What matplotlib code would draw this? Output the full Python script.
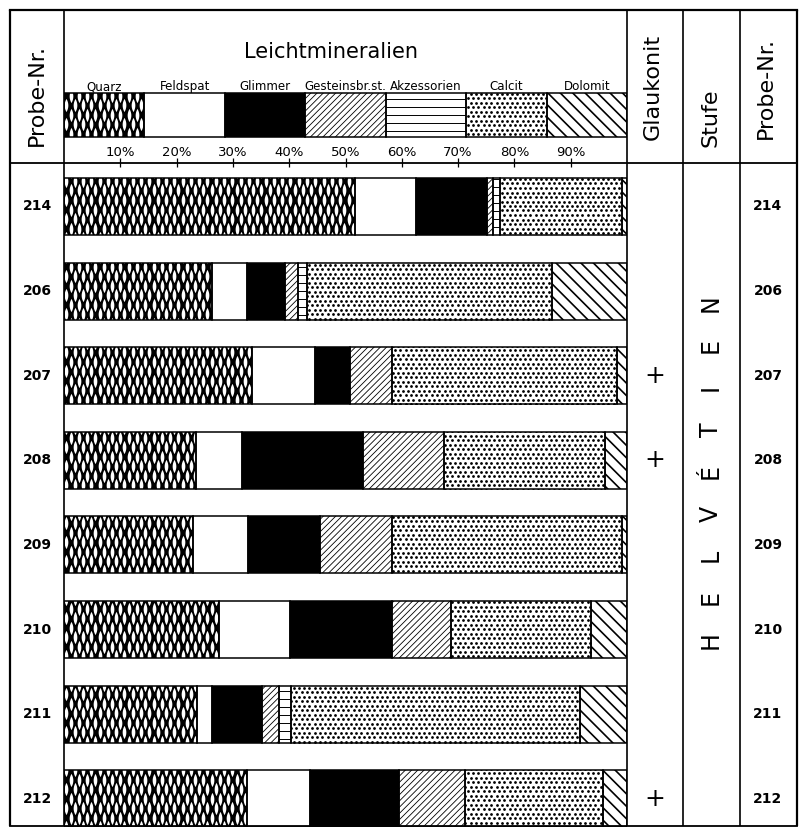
import numpy as np
import matplotlib
matplotlib.use("Agg")
import matplotlib.pyplot as plt
from matplotlib.collections import LineCollection
from matplotlib.patches import Rectangle
from matplotlib.path import Path
from matplotlib.transforms import blended_transform_factory

plt.rcParams["font.family"] = ["DejaVu Sans"]

# --- data (percent of light mineral fraction) ---
samples = ["214", "206", "207", "208", "209", "210", "211", "212"]
quarz = [51.7, 26.3, 33.4, 23.4, 22.9, 27.5, 23.6, 32.5]
feldspat = [10.8, 6.2, 11.2, 8.2, 9.8, 12.6, 2.7, 11.2]
glimmer = [12.6, 6.7, 6.2, 21.5, 12.8, 18.1, 8.9, 15.8]
gestein = [1.1, 2.3, 7.5, 14.4, 12.8, 10.5, 3.0, 11.7]
akzessorien = [1.2, 1.6, 0.0, 0.0, 0.0, 0.0, 2.1, 0.0]
calcit = [21.7, 43.5, 39.9, 28.6, 40.8, 24.9, 51.3, 24.5]
dolomit = [0.9, 13.4, 1.8, 3.9, 0.9, 6.4, 8.4, 4.3]
glaukonit = ["", "", "+", "+", "", "", "", "+"]
stufe = "HELVÉTIEN"
mineral_names = ["Quarz", "Feldspat", "Glimmer", "Gesteinsbr.st.",
                 "Akzessorien", "Calcit", "Dolomit"]
mineral_styles = ["quarz", "plain", "black", "ne", "hlines", "dots", "se"]
pct_ticks = [10, 20, 30, 40, 50, 60, 70, 80, 90]

# --- layout (pixels) ---
W, H = 799, 827
X_L, X_B0, X_B1, X_G, X_S, X_R = 10, 64, 627, 683, 740, 797
Y_T, Y_LEG0, Y_LEG1, Y_HEAD, Y_BOT = 10, 93, 137, 163, 826
ROW0, ROW_STEP, BAR_PX = 206.5, 84.6, 57

fig = plt.figure(figsize=(W / 100, H / 100), dpi=100)

ax = fig.add_axes([X_B0 / W, 0, (X_B1 - X_B0) / W, (H - Y_HEAD) / H])
ax.set_xlim(0, 100)
ax.set_ylim((H - ROW0) / ROW_STEP, -(ROW0 - Y_HEAD) / ROW_STEP)
ax.axis("off")

hx = fig.add_axes([X_B0 / W, (H - Y_HEAD) / H, (X_B1 - X_B0) / W, (Y_HEAD - Y_T) / H])
hx.set_xlim(0, 100)
hx.set_ylim(Y_HEAD, Y_T)
hx.axis("off")

ov = fig.add_axes([0, 0, 1, 1], zorder=5)
ov.set_xlim(0, W)
ov.set_ylim(H, 0)
ov.axis("off")
ov.patch.set_alpha(0)


def to_data(a, pts):
    return a.transData.inverted().transform(np.asarray(pts, float))


def hatch_lines(a, patch, angle, gap, lw):
    bb = patch.get_window_extent()
    c = np.array([(bb.x0 + bb.x1) / 2, (bb.y0 + bb.y1) / 2])
    r = np.hypot(bb.width, bb.height) / 2 + gap
    t = np.radians(angle)
    d = np.array([np.cos(t), np.sin(t)])
    n = np.array([-np.sin(t), np.cos(t)])
    nc, dc = n @ c, d @ c
    offs = np.arange(np.floor((nc - r) / gap) * gap, nc + r, gap)
    segs = [to_data(a, [n * o + d * (dc - r), n * o + d * (dc + r)]) for o in offs]
    lc = LineCollection(segs, colors="black", linewidths=lw, zorder=1.5)
    a.add_collection(lc, autolim=False)
    lc.set_clip_path(patch)


def lattice(bb, px, row_gap):
    pts = []
    for r in np.arange(np.floor(bb.y0 / row_gap) - 1, np.ceil(bb.y1 / row_gap) + 2):
        off = (r % 2) * px / 2
        xs = np.arange(np.floor((bb.x0 - off) / px) * px + off - px, bb.x1 + px, px)
        pts.extend((x, r * row_gap) for x in xs)
    return np.array(pts)


def marks(a, patch, px, row_gap, marker, size, color):
    pts = to_data(a, lattice(patch.get_window_extent(), px, row_gap))
    sc = a.scatter(pts[:, 0], pts[:, 1], s=size, marker=marker, color=color,
                   linewidths=0, zorder=1.5)
    sc.set_clip_path(patch)


tt = np.linspace(-1, 1, 17)
right = np.column_stack([0.14 * (1 - tt ** 2), 0.5 * tt])
left = right[::-1] * [-1, 1]
lens = Path(np.vstack([right, left, right[:1]]), closed=True)

FACE = {"quarz": "black", "black": "black"}


def texture(a, patch, style):
    if style == "quarz":
        marks(a, patch, 8.3, 9.5, lens, 90, "white")
    elif style == "ne":
        hatch_lines(a, patch, 45, 4.4, 0.6)
    elif style == "se":
        hatch_lines(a, patch, -45, 8.8, 1.2)
    elif style == "hlines":
        hatch_lines(a, patch, 0, 8.0, 0.7)
    elif style == "dots":
        marks(a, patch, 5.2, 4.5, "o", 4.0, "black")


# --- stacked bars ---
y = np.arange(len(samples))
bar_h = BAR_PX / ROW_STEP
left_edge = np.zeros(len(samples))
for vals, style in zip([quarz, feldspat, glimmer, gestein, akzessorien, calcit, dolomit],
                       mineral_styles):
    vals = np.asarray(vals)
    bars = ax.barh(y, vals, left=left_edge, height=bar_h,
                   color=FACE.get(style, "white"), linewidth=0, zorder=1)
    for rect, v in zip(bars, vals):
        if v > 0:
            texture(ax, rect, style)
            ax.add_patch(Rectangle(rect.get_xy(), rect.get_width(), rect.get_height(),
                                   fill=False, ec="black", lw=1.1, zorder=2))
    left_edge += vals

# --- legend strip in header ---
box_w = 100 / len(mineral_names)
for i, (name, style) in enumerate(zip(mineral_names, mineral_styles)):
    box = Rectangle((i * box_w, Y_LEG0), box_w, Y_LEG1 - Y_LEG0,
                    fc=FACE.get(style, "white"), lw=0, zorder=1)
    hx.add_patch(box)
    texture(hx, box, style)
    hx.add_patch(Rectangle((i * box_w, Y_LEG0), box_w, Y_LEG1 - Y_LEG0,
                           fill=False, ec="black", lw=1.1, zorder=2))
    hx.text((i + 0.5) * box_w, Y_LEG0 - 3, name, ha="center", va="baseline",
            fontsize=8.6)

for p in pct_ticks:
    hx.text(p, 153, f"{p}%", ha="center", va="center", fontsize=9.5)
hx.vlines(pct_ticks, 158, 167, color="black", lw=0.9, clip_on=False)

ov.text(331, 58, "Leichtmineralien", ha="center", va="baseline", fontsize=15)

# --- frame ---
for xv in [X_L, X_B0, X_B1, X_G, X_S, X_R]:
    ov.plot([xv, xv], [Y_T, Y_BOT], color="black",
            lw=1.6 if xv in (X_L, X_R) else 1.2, solid_capstyle="butt")
for yv in [Y_T, Y_HEAD, Y_BOT]:
    ov.plot([X_L, X_R], [yv, yv], color="black", lw=1.6 if yv == Y_T else 1.3)

# column headers
ov.text(37, 95, "Probe-Nr.", rotation=90, ha="center", va="center", fontsize=16)
ov.text(653, 87, "Glaukonit", rotation=90, ha="center", va="center", fontsize=16)
ov.text(711, 118, "Stufe", rotation=90, ha="center", va="center", fontsize=16)
ov.text(766, 88, "Probe-Nr.", rotation=90, ha="center", va="center", fontsize=16)

# row labels and glauconite marks, y from the bar axis
row_tr = blended_transform_factory(ov.transData, ax.transData)
for i, s in enumerate(samples):
    ov.text(37, i, s, transform=row_tr, ha="center", va="center",
            fontsize=10, fontweight="bold")
    ov.text(768, i, s, transform=row_tr, ha="center", va="center",
            fontsize=10, fontweight="bold")
    if glaukonit[i]:
        ov.text(655, i, glaukonit[i], transform=row_tr, ha="center", va="center",
                fontsize=18)

# stage name, letters spaced along the column, reading upward
for k, ch in enumerate(stufe):
    ov.text(711, 640 - k * 42.1, ch, rotation=90, ha="center", va="center",
            fontsize=17)

fig.savefig("out.png", dpi=100)
